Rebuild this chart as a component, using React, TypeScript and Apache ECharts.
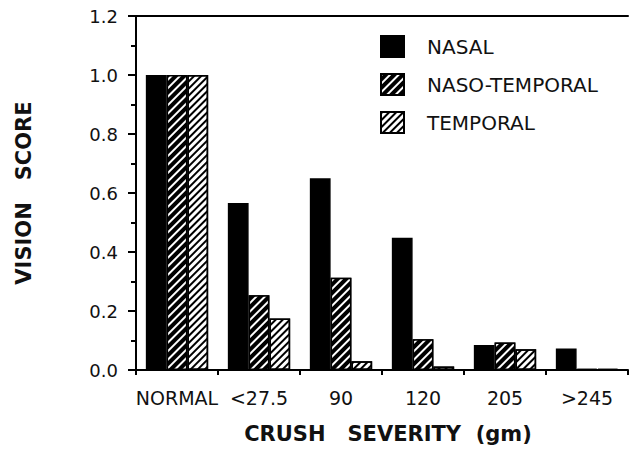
import React, { useEffect, useRef } from "react";
import * as echarts from "echarts";

const categories = ["NORMAL", "<27.5", "90", "120", "205", ">245"];
const nasal = [1.0, 0.566, 0.65, 0.448, 0.085, 0.073];
const nasoTemporal = [1.0, 0.253, 0.313, 0.104, 0.093, 0.004];
const temporal = [1.0, 0.175, 0.03, 0.012, 0.07, 0.004];
const yTicks = { min: 0, max: 1.2, interval: 0.2 };

const FONT = "DejaVu Sans";

export default function App() {
  const ref = useRef<HTMLDivElement>(null);
  useEffect(() => {
    const chart = echarts.init(ref.current!, null, { renderer: "svg" });
    const border = { borderColor: "#000", borderWidth: 1.5 };
    chart.setOption({
      animation: false,
      backgroundColor: "#fff",
      grid: { left: 136, top: 16, right: 2, bottom: 77, containLabel: false },
      legend: {
        orient: "vertical",
        left: 375,
        top: 30,
        icon: "rect",
        itemWidth: 23,
        itemHeight: 21,
        itemGap: 15,
        textStyle: { fontFamily: FONT, fontSize: 20, color: "#111", padding: [0, 0, 0, 18] },
        data: ["NASAL", "NASO-TEMPORAL", "TEMPORAL"],
      },
      xAxis: [
        {
          type: "category",
          data: categories,
          axisLine: { lineStyle: { color: "#000", width: 2 } },
          axisTick: { show: true, length: 5, lineStyle: { color: "#000", width: 2 } },
          axisLabel: { interval: 0, fontFamily: FONT, fontSize: 19, color: "#111", margin: 18 },
          name: "CRUSH   SEVERITY  (gm)",
          nameLocation: "middle",
          nameGap: 53,
          nameTextStyle: { fontFamily: FONT, fontSize: 21, fontWeight: "bold", color: "#111", padding: [0, 0, 0, 12] },
        },
        {
          type: "category",
          data: categories,
          position: "top",
          axisLine: { lineStyle: { color: "#000", width: 2 } },
          axisTick: { show: false },
          axisLabel: { show: false },
        },
      ],
      yAxis: {
        type: "value",
        min: yTicks.min,
        max: yTicks.max,
        interval: yTicks.interval,
        axisLine: { show: true, lineStyle: { color: "#000", width: 2 } },
        axisTick: { show: true, length: 8, lineStyle: { color: "#000", width: 2 } },
        minorTick: { show: true, splitNumber: 2, length: 5, lineStyle: { color: "#000", width: 2 } },
        splitLine: { show: false },
        axisLabel: {
          fontFamily: FONT,
          fontSize: 18,
          color: "#111",
          margin: 18,
          formatter: (v: number) => v.toFixed(1),
        },
        name: "VISION   SCORE",
        nameLocation: "middle",
        nameGap: 102,
        nameRotate: 90,
        nameTextStyle: { fontFamily: FONT, fontSize: 21, fontWeight: "bold", color: "#111" },
      },
      series: [
        {
          name: "NASAL",
          type: "bar",
          data: nasal,
          barCategoryGap: "24%",
          barGap: "0%",
          itemStyle: { color: "#000", ...border },
        },
        {
          name: "NASO-TEMPORAL",
          type: "bar",
          data: nasoTemporal,
          barGap: "0%",
          itemStyle: {
            color: "#000",
            ...border,
            decal: {
              symbol: "rect",
              symbolSize: 1,
              dashArrayX: [1, 0],
              dashArrayY: [1.2, 3.3],
              rotation: -Math.PI / 4,
              color: "#fff",
            },
          },
        },
        {
          name: "TEMPORAL",
          type: "bar",
          data: temporal,
          barGap: "0%",
          itemStyle: {
            color: "#fff",
            ...border,
            decal: {
              symbol: "rect",
              symbolSize: 1,
              dashArrayX: [1, 0],
              dashArrayY: [2, 3],
              rotation: -Math.PI / 4,
              color: "#000",
            },
          },
        },
      ],
    });
    return () => chart.dispose();
  }, []);
  return <div ref={ref} style={{ width: 630, height: 449, position: "absolute", left: 0, top: 0 }} />;
}
